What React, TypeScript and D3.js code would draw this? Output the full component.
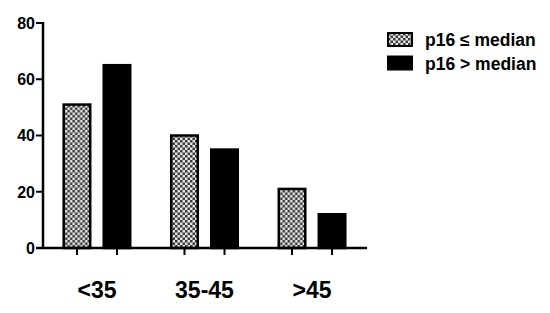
import React, { useEffect, useRef } from 'react';
import * as d3 from 'd3';

const categories = ['<35', '35-45', '>45'];
const seriesNames = ['p16 ≤ median', 'p16 > median'];
const lowValues = [51, 40, 21];
const highValues = [65, 35, 12];
const yTicks = [0, 20, 40, 60, 80];

const FONT = 'Arial, "Liberation Sans", Helvetica, sans-serif';

export default function App() {
  const svgRef = useRef<SVGSVGElement | null>(null);

  useEffect(() => {
    const width = 550;
    const height = 313;
    const svg = d3.select(svgRef.current);
    svg.selectAll('*').remove();

    // checker pattern for the first series
    const defs = svg.append('defs');
    const pat = defs.append('pattern')
      .attr('id', 'checker')
      .attr('patternUnits', 'userSpaceOnUse')
      .attr('width', 5)
      .attr('height', 5);
    pat.append('rect').attr('width', 5).attr('height', 5).attr('fill', '#e6e6e6');
    pat.append('rect').attr('width', 2.5).attr('height', 2.5).attr('fill', '#3a3a3a');
    pat.append('rect').attr('x', 2.5).attr('y', 2.5).attr('width', 2.5).attr('height', 2.5).attr('fill', '#3a3a3a');

    const left = 43;
    const axisRight = 367;
    const y = d3.scaleLinear().domain([0, 80]).range([248, 23]);

    const x0 = d3.scaleBand().domain(categories).range([43, 366]).paddingInner(0.358).paddingOuter(0.181);
    const x1 = d3.scaleBand().domain(seriesNames).range([0, x0.bandwidth()]).paddingInner(0.275);

    const g = svg.append('g');

    const rows = categories.map((c, i) => ({ c, vals: [lowValues[i], highValues[i]] }));

    const groups = g.selectAll('g.grp')
      .data(rows)
      .enter()
      .append('g')
      .attr('class', 'grp')
      .attr('transform', d => `translate(${x0(d.c)},0)`);

    groups.selectAll('rect')
      .data(d => d.vals.map((v, j) => ({ v, s: seriesNames[j], j })))
      .enter()
      .append('rect')
      .attr('x', d => (x1(d.s) as number) + 1.25)
      .attr('y', d => y(d.v))
      .attr('width', x1.bandwidth() - 2.5)
      .attr('height', d => y(0) - y(d.v))
      .attr('fill', d => (d.j === 0 ? 'url(#checker)' : '#000'))
      .attr('stroke', '#000')
      .attr('stroke-width', 2.5);

    // x ticks under each bar
    groups.selectAll('line')
      .data(seriesNames)
      .enter()
      .append('line')
      .attr('x1', s => (x1(s) as number) + x1.bandwidth() / 2)
      .attr('x2', s => (x1(s) as number) + x1.bandwidth() / 2)
      .attr('y1', y(0))
      .attr('y2', y(0) + 7)
      .attr('stroke', '#000')
      .attr('stroke-width', 2);

    groups.append('text')
      .attr('x', x0.bandwidth() / 2)
      .attr('y', 298)
      .attr('text-anchor', 'middle')
      .attr('font-family', FONT)
      .attr('font-weight', 'bold')
      .attr('font-size', 23)
      .text(d => d.c);

    // axes lines
    g.append('line')
      .attr('x1', left).attr('x2', left)
      .attr('y1', y(80) - 1).attr('y2', y(0))
      .attr('stroke', '#000').attr('stroke-width', 2.5);
    g.append('line')
      .attr('x1', left - 7).attr('x2', axisRight)
      .attr('y1', y(0)).attr('y2', y(0))
      .attr('stroke', '#000').attr('stroke-width', 2.5);

    const yt = g.selectAll('g.yt')
      .data(yTicks)
      .enter()
      .append('g')
      .attr('class', 'yt')
      .attr('transform', d => `translate(0,${y(d)})`);
    yt.append('line')
      .attr('x1', left - 7).attr('x2', left)
      .attr('stroke', '#000').attr('stroke-width', 2);
    yt.append('text')
      .attr('x', left - 8)
      .attr('dy', '0.36em')
      .attr('text-anchor', 'end')
      .attr('font-family', FONT)
      .attr('font-weight', 'bold')
      .attr('font-size', 16)
      .text(d => d);

    // legend
    const legend = svg.append('g').attr('transform', 'translate(388,33)');
    const items = legend.selectAll('g')
      .data(seriesNames)
      .enter()
      .append('g')
      .attr('transform', (d, i) => `translate(0,${i * 23.5})`);
    items.append('rect')
      .attr('width', 24)
      .attr('height', 13)
      .attr('fill', (d, i) => (i === 0 ? 'url(#checker)' : '#000'))
      .attr('stroke', '#000')
      .attr('stroke-width', 2);
    items.append('text')
      .attr('x', 37)
      .attr('y', 13)
      .attr('font-family', FONT)
      .attr('font-weight', 'bold')
      .attr('font-size', 17.5)
      .text(d => d);

    svg.attr('width', width).attr('height', height);
  }, []);

  return (
    <div style={{ position: 'fixed', left: 0, top: 0, width: 550, height: 313, background: '#fff' }}>
      <svg ref={svgRef} width={550} height={313} style={{ display: 'block' }} />
    </div>
  );
}
